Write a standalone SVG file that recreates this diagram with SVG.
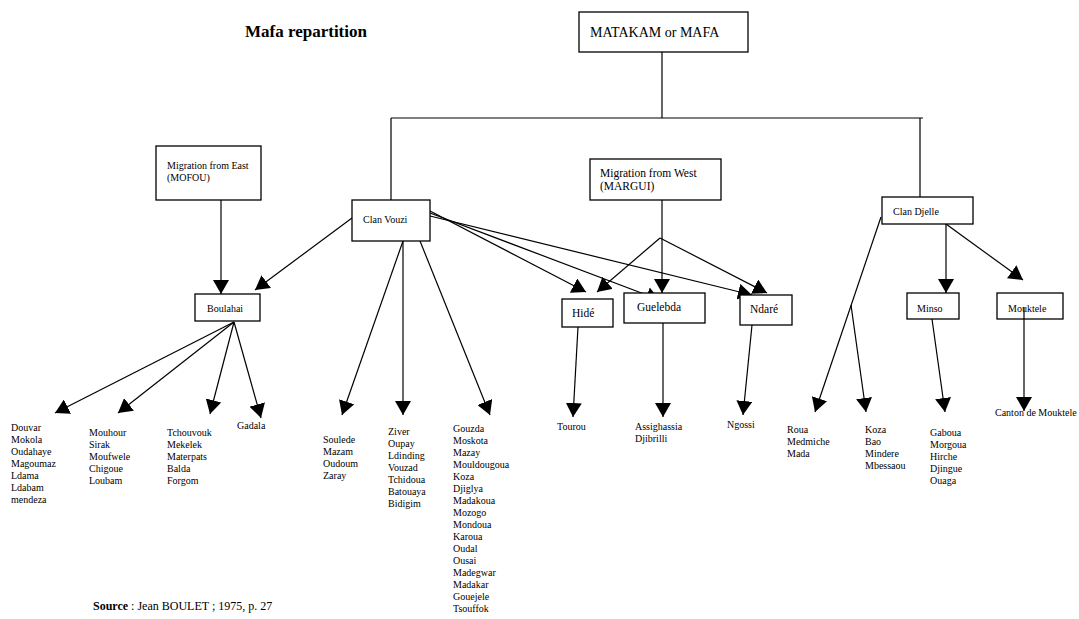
<svg xmlns="http://www.w3.org/2000/svg" width="1079" height="619" viewBox="0 0 1079 619">
<defs>
<marker id="ah" viewBox="0 0 14 16" refX="14" refY="8" markerWidth="14" markerHeight="16" orient="auto" markerUnits="userSpaceOnUse"><path d="M0,0 L14,8 L0,16 z" fill="#000"/></marker>
</defs>
<style>
.box{fill:#fff;stroke:#000;stroke-width:1.3}
.ln{fill:none;stroke:#000;stroke-width:1.2}
.ar{fill:none;stroke:#000;stroke-width:1.2;marker-end:url(#ah)}
text{font-family:"Liberation Serif","Times New Roman",serif;fill:#000}
.s{font-size:10px}
.m{font-size:11.5px}
.b{font-size:14px}
.t{font-size:17px;font-weight:bold}
.src{font-size:12px}
</style>
<rect width="1079" height="619" fill="#fff"/>
<text class="t" x="245" y="37">Mafa repartition</text>

<g id="connectors">
<path class="ln" d="M662,52 V118 M391,118 H923 M391,118 V200 M920,118 V197"/>
<path class="ar" d="M221,200 V294"/>
<path class="ar" d="M352,218 L255,290"/>
<path class="ar" d="M234,322 L55,413"/>
<path class="ar" d="M234,322 L118,413"/>
<path class="ar" d="M234,322 L210,414"/>
<path class="ar" d="M234,322 L261,418"/>
<path class="ar" d="M403,241 L342,415"/>
<path class="ar" d="M403,241 V415"/>
<path class="ar" d="M420,241 L490,415"/>
<path class="ar" d="M430,211 L586,292"/>
<path class="ar" d="M430,213 L660,300"/>
<path class="ar" d="M430,216 L752,295"/>
<path class="ar" d="M662,200 V293"/>
<path class="ar" d="M660,238 L597,292"/>
<path class="ar" d="M660,238 L767,293"/>
<path class="ar" d="M578,327 L573,417"/>
<path class="ar" d="M663,323 V417"/>
<path class="ar" d="M752,325 L743,415"/>
<path class="ar" d="M881,217 L815,412"/>
<path class="ar" d="M851,305 L866,412"/>
<path class="ar" d="M946,224 V293"/>
<path class="ar" d="M946,224 L1023,280"/>
<path class="ar" d="M932,319 L945,412"/>
<path class="ar" d="M1024,307 V411"/>
</g>

<g id="n-matakam"><rect class="box" x="579" y="12" width="169" height="40"/><text class="b" x="590" y="37">MATAKAM or MAFA</text></g>
<g id="n-east"><rect class="box" x="156" y="146" width="105" height="54"/><text class="s" x="167" y="169">Migration from East<tspan x="167" dy="12">(MOFOU)</tspan></text></g>
<g id="n-vouzi"><rect class="box" x="352" y="200" width="78" height="41"/><text class="s" x="363" y="223">Clan Vouzi</text></g>
<g id="n-west"><rect class="box" x="590" y="159" width="131" height="41"/><text class="m" x="600" y="177">Migration from West<tspan x="600" dy="13">(MARGUI)</tspan></text></g>
<g id="n-djelle"><rect class="box" x="882" y="197" width="91" height="27"/><text class="s" x="893" y="215">Clan Djelle</text></g>
<g id="n-boulahai"><rect class="box" x="195" y="294" width="65" height="27"/><text class="s" x="207" y="312">Boulahai</text></g>
<g id="n-hide"><rect class="box" x="562" y="299" width="51" height="28"/><text class="m" x="572" y="317">Hidé</text></g>
<g id="n-guelebda"><rect class="box" x="624" y="293" width="81" height="30"/><text class="m" x="637" y="311">Guelebda</text></g>
<g id="n-ndare"><rect class="box" x="740" y="295" width="52" height="30"/><text class="m" x="750" y="313">Ndaré</text></g>
<g id="n-minso"><rect class="box" x="907" y="293" width="52" height="26"/><text class="s" x="917" y="312">Minso</text></g>
<g id="n-mouktele"><rect class="box" x="997" y="293" width="66" height="26"/><text class="s" x="1008" y="312">Mouktele</text></g>
<path class="ln" d="M1024,307 V319"/>

<g id="l-boulahai1"><text class="s" x="11" y="431">Douvar<tspan x="11" dy="12">Mokola</tspan><tspan x="11" dy="12">Oudahaye</tspan><tspan x="11" dy="12">Magoumaz</tspan><tspan x="11" dy="12">Ldama</tspan><tspan x="11" dy="12">Ldabam</tspan><tspan x="11" dy="12">mendeza</tspan></text></g>
<g id="l-boulahai2"><text class="s" x="89" y="436">Mouhour<tspan x="89" dy="12">Sirak</tspan><tspan x="89" dy="12">Moufwele</tspan><tspan x="89" dy="12">Chigoue</tspan><tspan x="89" dy="12">Loubam</tspan></text></g>
<g id="l-boulahai3"><text class="s" x="167" y="436">Tchouvouk<tspan x="167" dy="12">Mekelek</tspan><tspan x="167" dy="12">Materpats</tspan><tspan x="167" dy="12">Balda</tspan><tspan x="167" dy="12">Forgom</tspan></text></g>
<g id="l-gadala"><text class="s" x="237" y="429">Gadala</text></g>
<g id="l-vouzi1"><text class="s" x="323" y="443">Soulede<tspan x="323" dy="12">Mazam</tspan><tspan x="323" dy="12">Oudoum</tspan><tspan x="323" dy="12">Zaray</tspan></text></g>
<g id="l-vouzi2"><text class="s" x="388" y="435">Ziver<tspan x="388" dy="12">Oupay</tspan><tspan x="388" dy="12">Ldinding</tspan><tspan x="388" dy="12">Vouzad</tspan><tspan x="388" dy="12">Tchidoua</tspan><tspan x="388" dy="12">Batouaya</tspan><tspan x="388" dy="12">Bidigim</tspan></text></g>
<g id="l-vouzi3"><text class="s" x="453" y="432">Gouzda<tspan x="453" dy="12">Moskota</tspan><tspan x="453" dy="12">Mazay</tspan><tspan x="453" dy="12">Mouldougoua</tspan><tspan x="453" dy="12">Koza</tspan><tspan x="453" dy="12">Djiglya</tspan><tspan x="453" dy="12">Madakoua</tspan><tspan x="453" dy="12">Mozogo</tspan><tspan x="453" dy="12">Mondoua</tspan><tspan x="453" dy="12">Karoua</tspan><tspan x="453" dy="12">Oudal</tspan><tspan x="453" dy="12">Ousai</tspan><tspan x="453" dy="12">Madegwar</tspan><tspan x="453" dy="12">Madakar</tspan><tspan x="453" dy="12">Gouejele</tspan><tspan x="453" dy="12">Tsouffok</tspan></text></g>
<g id="l-tourou"><text class="s" x="557" y="430">Tourou</text></g>
<g id="l-guelebda"><text class="s" x="635" y="430">Assighassia<tspan x="635" dy="12">Djibrilli</tspan></text></g>
<g id="l-ngossi"><text class="s" x="727" y="428">Ngossi</text></g>
<g id="l-djelle1"><text class="s" x="787" y="433">Roua<tspan x="787" dy="12">Medmiche</tspan><tspan x="787" dy="12">Mada</tspan></text></g>
<g id="l-djelle2"><text class="s" x="865" y="433">Koza<tspan x="865" dy="12">Bao</tspan><tspan x="865" dy="12">Mindere</tspan><tspan x="865" dy="12">Mbessaou</tspan></text></g>
<g id="l-minso"><text class="s" x="930" y="436">Gaboua<tspan x="930" dy="12">Morgoua</tspan><tspan x="930" dy="12">Hirche</tspan><tspan x="930" dy="12">Djingue</tspan><tspan x="930" dy="12">Ouaga</tspan></text></g>
<g id="l-mouktele"><text class="s" x="995" y="416">Canton de Mouktele</text></g>

<text class="src" x="93" y="610"><tspan font-weight="bold">Source</tspan> : Jean BOULET ; 1975, p. 27</text>
</svg>
